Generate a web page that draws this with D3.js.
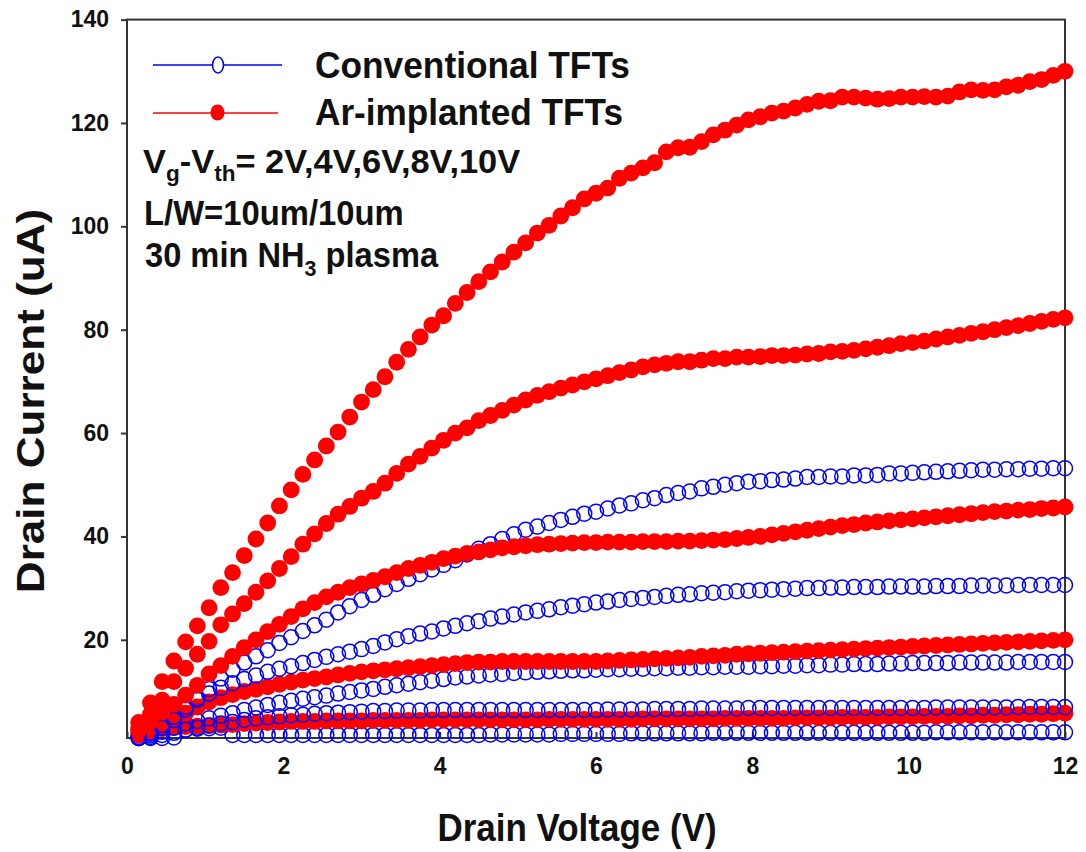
<!DOCTYPE html>
<html>
<head>
<meta charset="utf-8">
<script src="https://cdn.jsdelivr.net/npm/d3@7"></script>
<style>
  html, body { margin: 0; padding: 0; background: #fff; }
  svg { display: block; font-family: "Liberation Sans", Arial, sans-serif; }
</style>
</head>
<body>
<svg id="chart" width="1086" height="852"></svg>
<script>
// ---------- data ----------
const voltage = [
  0.15,0.30,0.45,0.60,0.75,0.90,1.05,1.20,1.35,1.50,
  1.65,1.80,1.95,2.10,2.25,2.40,2.55,2.70,2.85,3.00,
  3.15,3.30,3.45,3.60,3.75,3.90,4.05,4.20,4.35,4.50,
  4.65,4.80,4.95,5.10,5.25,5.40,5.55,5.70,5.85,6.00,
  6.15,6.30,6.45,6.60,6.75,6.90,7.05,7.20,7.35,7.50,
  7.65,7.80,7.95,8.10,8.25,8.40,8.55,8.70,8.85,9.00,
  9.15,9.30,9.45,9.60,9.75,9.90,10.05,10.20,10.35,10.50,
  10.65,10.80,10.95,11.10,11.25,11.40,11.55,11.70,11.85,12.00
];

// Ar-implanted TFTs (red, filled), Vg-Vth = 2,4,6,8,10 V
const ar2 = [
  1.5,2.2,2.8,3.0,3.2,3.3,3.4,3.5,3.6,3.8,
  3.9,4.0,4.1,4.2,4.2,4.2,4.3,4.3,4.3,4.3,
  4.4,4.4,4.4,4.4,4.4,4.5,4.5,4.5,4.5,4.5,
  4.5,4.5,4.5,4.5,4.5,4.6,4.6,4.6,4.6,4.6,
  4.6,4.6,4.6,4.7,4.7,4.7,4.7,4.7,4.7,4.7,
  4.8,4.8,4.8,4.8,4.8,4.8,4.9,4.9,4.9,4.9,
  5.0,5.0,5.0,5.0,5.1,5.1,5.1,5.2,5.2,5.2,
  5.3,5.3,5.4,5.4,5.5,5.5,5.6,5.6,5.7,5.8
];
const ar4 = [
  2.0,3.0,4.0,4.8,5.8,7.0,8.0,8.8,9.4,10.0,
  10.4,10.9,11.4,11.8,12.2,12.5,12.8,13.2,13.5,13.8,
  14.0,14.2,14.4,14.6,14.8,15.0,15.2,15.4,15.6,15.7,
  15.7,15.8,15.8,15.8,15.8,15.8,15.8,15.8,15.8,15.8,
  15.9,16.0,16.1,16.2,16.3,16.4,16.5,16.6,16.8,16.9,
  17.0,17.2,17.3,17.4,17.5,17.6,17.7,17.8,17.9,18.0,
  18.1,18.2,18.3,18.4,18.5,18.6,18.7,18.8,18.9,19.0,
  19.1,19.2,19.3,19.4,19.5,19.6,19.7,19.8,19.9,20.0
];
const ar6 = [
  2.5,4.2,6.0,7.5,9.3,11.2,13.4,15.0,16.8,18.5,
  20.0,21.6,23.0,24.5,26.0,27.2,28.3,29.2,30.1,30.8,
  31.5,32.2,33.0,33.8,34.4,35.0,35.7,36.2,36.7,37.0,
  37.4,37.8,38.0,38.2,38.4,38.5,38.6,38.7,38.8,38.8,
  38.9,38.9,38.9,39.0,39.0,39.0,39.1,39.1,39.2,39.3,
  39.4,39.6,39.8,40.0,40.3,40.6,40.9,41.2,41.5,41.8,
  42.1,42.3,42.6,42.8,43.0,43.2,43.4,43.6,43.8,44.0,
  44.2,44.4,44.6,44.8,44.9,45.1,45.2,45.4,45.5,45.7
];
const ar8 = [
  3.0,5.6,8.3,11.9,14.5,17.2,19.7,22.9,25.0,27.0,
  29.2,31.4,33.8,36.1,38.5,40.5,42.5,44.3,45.8,47.4,
  48.7,50.3,52.2,54.0,55.5,57.1,58.6,60.0,61.0,62.4,
  63.4,64.4,65.4,66.4,67.3,68.0,68.7,69.3,69.9,70.5,
  71.1,71.7,72.2,72.8,73.2,73.5,73.8,73.8,74.1,74.4,
  74.4,74.7,74.7,74.8,75.0,75.0,75.1,75.3,75.4,75.7,
  75.8,76.0,76.3,76.6,76.9,77.3,77.5,77.8,78.2,78.6,
  78.9,79.3,79.6,80.0,80.4,80.8,81.2,81.6,82.0,82.3
];
const ar10 = [
  4.0,7.8,11.9,15.9,19.6,22.7,26.2,30.1,33.0,36.3,
  39.5,42.6,45.9,49.0,52.0,54.8,57.5,60.2,63.1,66.0,
  68.4,70.9,73.7,76.2,78.6,80.9,82.7,85.1,87.2,89.3,
  91.2,93.1,95.0,96.8,98.7,100.2,102.0,103.6,105.3,106.4,
  107.4,109.3,110.3,111.3,112.3,114.4,115.2,115.3,116.4,117.7,
  118.6,119.6,120.6,121.2,121.9,122.3,122.9,123.6,124.2,124.3,
  125.0,125.0,124.8,124.6,124.7,125.0,125.0,125.1,125.0,125.2,
  126.0,126.4,126.3,126.4,127.0,127.3,128.0,128.4,129.2,130.0
];

// Conventional TFTs (blue, open), Vg-Vth = 2,4,6,8,10 V
const conv2 = [
  1.0,1.0,1.0,1.1,2.6,2.8,2.9,3.0,1.6,1.6,
  1.6,1.6,1.6,1.6,1.6,1.6,1.6,1.6,1.6,1.6,
  1.6,1.6,1.6,1.6,1.6,1.6,1.6,1.6,1.6,1.6,
  1.7,1.7,1.7,1.7,1.7,1.7,1.8,1.8,1.8,1.8,
  1.8,1.8,1.9,1.9,1.9,1.9,1.9,1.9,1.9,2.0,
  2.0,2.0,2.0,2.0,2.0,2.0,2.0,2.0,2.0,2.0,
  2.0,2.0,2.0,2.0,2.0,2.0,2.0,2.0,2.1,2.1,
  2.1,2.1,2.1,2.1,2.1,2.1,2.1,2.1,2.1,2.1
];
const conv4 = [
  1.0,1.2,1.6,2.0,2.6,3.0,3.4,3.8,4.1,4.5,
  4.8,5.0,5.2,5.4,5.5,5.7,5.8,5.9,6.0,6.1,
  6.2,6.2,6.3,6.3,6.3,6.4,6.4,6.4,6.4,6.4,
  6.4,6.4,6.4,6.4,6.4,6.4,6.4,6.4,6.4,6.4,
  6.5,6.5,6.5,6.5,6.6,6.6,6.6,6.6,6.7,6.7,
  6.7,6.7,6.8,6.8,6.8,6.8,6.8,6.8,6.8,6.8,
  6.8,6.8,6.8,6.8,6.8,6.8,6.8,6.8,6.9,6.9,
  6.9,6.9,6.9,6.9,6.9,7.0,7.0,7.0,7.0,7.0
];
const conv6 = [
  1.0,1.5,2.2,3.0,3.8,4.3,4.8,5.3,5.8,6.4,
  6.9,7.4,7.8,8.2,8.6,8.9,9.2,9.6,9.9,10.2,
  10.5,10.9,11.2,11.5,11.8,12.1,12.4,12.7,12.9,13.1,
  13.3,13.4,13.6,13.7,13.8,13.9,14.0,14.1,14.1,14.2,
  14.3,14.3,14.4,14.4,14.5,14.5,14.6,14.6,14.7,14.7,
  14.8,14.8,14.8,14.9,14.9,15.0,15.0,15.1,15.1,15.2,
  15.2,15.3,15.3,15.3,15.4,15.4,15.5,15.5,15.5,15.5,
  15.6,15.6,15.6,15.6,15.6,15.7,15.7,15.7,15.7,15.7
];
const conv8 = [
  1.0,1.8,3.0,4.5,6.5,8.4,9.6,10.7,11.6,12.4,
  13.1,13.8,14.4,14.9,15.5,16.1,16.7,17.2,17.7,18.2,
  18.8,19.5,20.1,20.7,21.2,21.6,22.2,22.7,23.2,23.6,
  24.1,24.5,24.9,25.3,25.6,25.9,26.3,26.6,26.9,27.2,
  27.4,27.7,27.9,28.1,28.3,28.5,28.7,28.8,29.0,29.1,
  29.2,29.4,29.5,29.6,29.7,29.8,29.9,30.0,30.0,30.1,
  30.1,30.2,30.2,30.2,30.3,30.3,30.3,30.3,30.4,30.4,
  30.4,30.5,30.5,30.5,30.5,30.6,30.6,30.6,30.6,30.6
];
const conv10 = [
  1.2,2.0,3.5,5.1,7.0,8.7,10.5,12.5,14.2,15.6,
  16.8,18.0,19.4,20.5,21.7,22.8,23.9,25.3,26.5,27.7,
  28.7,29.8,30.8,31.8,32.7,33.6,34.5,35.4,36.5,37.6,
  38.5,39.5,40.4,41.3,41.9,42.6,43.2,43.8,44.4,44.8,
  45.4,46.0,46.4,47.0,47.4,48.0,48.4,48.7,49.3,49.6,
  50.0,50.3,50.6,50.7,50.9,51.0,51.2,51.5,51.5,51.6,
  51.6,51.8,51.8,51.9,52.2,52.2,52.3,52.4,52.5,52.6,
  52.7,52.8,52.9,52.9,53.0,53.0,53.1,53.1,53.2,53.2
];

const xTicks = [0, 2, 4, 6, 8, 10, 12];
const yTicks = [20, 40, 60, 80, 100, 120, 140];
const legendLabels = ["Conventional TFTs", "Ar-implanted TFTs"];

// ---------- layout ----------
const svg = d3.select("#chart");
const pLeft = 127, pRight = 1065, pTop = 19.6, pBottom = 738;
const x = d3.scaleLinear().domain([0, 12]).range([pLeft, pRight]);
const y = d3.scaleLinear().domain([1, 140]).range([pBottom, pTop]);

const BLUE = "#0000ff", RED = "#ff0000", AXIS = "#333", INK = "#111";

// frame
svg.append("rect")
  .attr("x", pLeft).attr("y", pTop)
  .attr("width", pRight - pLeft).attr("height", pBottom - pTop)
  .attr("fill", "none").attr("stroke", AXIS).attr("stroke-width", 2);

// y axis
const yAxis = d3.axisLeft(y).tickValues(yTicks).tickSize(6).tickPadding(12);
const gy = svg.append("g").attr("transform", `translate(${pLeft},0)`).call(yAxis);
gy.select(".domain").remove();
gy.selectAll(".tick line").attr("stroke", AXIS).attr("stroke-width", 2);
gy.selectAll(".tick text")
  .attr("font-family", "Liberation Sans, Arial, sans-serif")
  .attr("font-size", 23).attr("font-weight", "bold").attr("fill", INK);

// x axis (inward ticks)
const xAxis = d3.axisBottom(x).tickValues(xTicks).tickSize(-6).tickPadding(20).tickFormat(d3.format("d"));
const gx = svg.append("g").attr("transform", `translate(0,${pBottom})`).call(xAxis);
gx.select(".domain").remove();
gx.selectAll(".tick line").attr("stroke", AXIS).attr("stroke-width", 2);
gx.selectAll(".tick text")
  .attr("font-family", "Liberation Sans, Arial, sans-serif")
  .attr("font-size", 23).attr("font-weight", "bold").attr("fill", INK);

// ---------- series ----------
const series = [
  { vals: conv2, type: "conv" },
  { vals: ar2,   type: "ar" },
  { vals: conv4, type: "conv" },
  { vals: conv6, type: "conv" },
  { vals: ar4,   type: "ar" },
  { vals: conv8, type: "conv" },
  { vals: conv10, type: "conv" },
  { vals: ar6,   type: "ar" },
  { vals: ar8,   type: "ar" },
  { vals: ar10,  type: "ar" }
];

const plot = svg.append("g");
series.forEach(s => {
  const pts = s.vals.map((v, i) => [voltage[i], v]);
  const g = plot.append("g");
  if (s.type === "conv") {
    g.selectAll("circle").data(pts).join("circle")
      .attr("cx", d => x(d[0])).attr("cy", d => y(d[1]))
      .attr("r", 7.5)
      .attr("fill", "none").attr("stroke", BLUE).attr("stroke-width", 1.5);
  } else {
    g.selectAll("circle").data(pts).join("circle")
      .attr("cx", d => x(d[0])).attr("cy", d => y(d[1]))
      .attr("r", 8.4)
      .attr("fill", RED);
  }
});

// ---------- legend ----------
const leg = svg.append("g");
leg.append("line").attr("x1", 153).attr("x2", 282).attr("y1", 65).attr("y2", 65)
  .attr("stroke", BLUE).attr("stroke-width", 1.6);
leg.append("ellipse").attr("cx", 218).attr("cy", 65).attr("rx", 5.5).attr("ry", 8)
  .attr("fill", "#fff").attr("stroke", BLUE).attr("stroke-width", 1.6);
leg.append("line").attr("x1", 153).attr("x2", 278).attr("y1", 113).attr("y2", 113)
  .attr("stroke", RED).attr("stroke-width", 1.6);
leg.append("ellipse").attr("cx", 217.5).attr("cy", 112.5).attr("rx", 7).attr("ry", 8)
  .attr("fill", RED);

leg.selectAll("text.lab").data(legendLabels).join("text")
  .attr("class", "lab")
  .attr("transform", (d, i) => `translate(315,${78 + i * 47}) scale(1,1.08)`)
  .attr("x", 0).attr("y", 0)
  .attr("font-size", 35).attr("font-weight", "bold").attr("fill", INK)
  .attr("textLength", (d, i) => i === 0 ? 315 : 308)
  .attr("lengthAdjust", "spacingAndGlyphs")
  .text(d => d);

// annotation
const ann = svg.append("g").attr("font-weight", "bold").attr("fill", INK).attr("font-size", 32);
const t1 = ann.append("text").attr("transform", "translate(143,173) scale(1.075,1.05)");
t1.append("tspan").text("V");
t1.append("tspan").attr("font-size", 21).attr("dy", 8).text("g");
t1.append("tspan").attr("dy", -8).text("-V");
t1.append("tspan").attr("font-size", 21).attr("dy", 8).text("th");
t1.append("tspan").attr("dy", -8).text("= 2V,4V,6V,8V,10V");
ann.append("text").attr("transform", "translate(144,225) scale(1.025,1.08)").text("L/W=10um/10um");
const t3 = ann.append("text").attr("transform", "translate(145,267) scale(1.02,1.08)");
t3.append("tspan").text("30 min NH");
t3.append("tspan").attr("font-size", 21).attr("dy", 8).text("3");
t3.append("tspan").attr("dy", -8).text(" plasma");

// axis titles
svg.append("text")
  .attr("transform", "translate(577,841) scale(1,1.12)")
  .attr("text-anchor", "middle")
  .attr("font-size", 35).attr("font-weight", "bold").attr("fill", INK)
  .text("Drain Voltage (V)");
svg.append("text")
  .attr("transform", "translate(44,401) rotate(-90) scale(1.13,1)")
  .attr("text-anchor", "middle")
  .attr("font-size", 39).attr("font-weight", "bold").attr("fill", INK)
  .text("Drain Current (uA)");
</script>
</body>
</html>
